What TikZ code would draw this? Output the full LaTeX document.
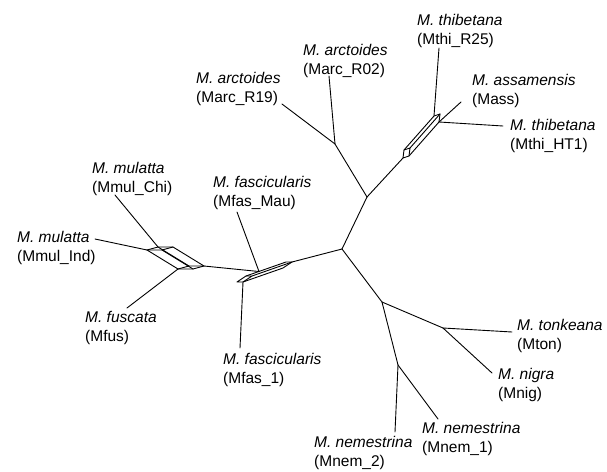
\documentclass[tikz,border=0pt]{standalone}
\usepackage{fontspec}
\setmainfont{Liberation Sans}
\begin{document}
\begin{tikzpicture}[x=1pt,y=-1pt,
  lab/.style={anchor=base west, inner sep=0pt, font=\fontsize{15.5}{19}\selectfont},
  sp/.style={anchor=base west, inner sep=0pt, font=\fontsize{15.5}{19}\selectfont\itshape},
  edge/.style={draw=black, line width=0.9pt, line join=round, line cap=round}]
\useasboundingbox (0,0) rectangle (607,471);
% tree junctions
\coordinate (A) at (342,249);
\coordinate (B) at (367,197);
\coordinate (C) at (335,144);
\coordinate (D) at (382,302);
\coordinate (E) at (443,328);
\coordinate (F) at (398,365);
% leaf ends
\coordinate (lR02) at (329,76);
\coordinate (lR19) at (282,104);
\coordinate (lR25) at (439,48);
\coordinate (lMass) at (461,102);
\coordinate (lHT1) at (503,126);
\coordinate (lMton) at (512,332);
\coordinate (lMnig) at (492,373);
\coordinate (lMnem1) at (438,419);
\coordinate (lMnem2) at (395,432);
\coordinate (lMfas1) at (240,348);
\coordinate (lMau) at (237,212);
\coordinate (lChi) at (115,195);
\coordinate (lInd) at (95,239);
\coordinate (lMfus) at (127,308);
% upper box (thibetana / assamensis)
\coordinate (u0) at (403,158);
\coordinate (u1) at (404,150);
\coordinate (u2) at (434,116);
\coordinate (u3) at (440,114);
\coordinate (u4) at (439,122);
\coordinate (u5) at (409,156);
\coordinate (u6) at (410,148);
% mulatta box
\coordinate (mL) at (147,250);
\coordinate (mT1) at (158,247);
\coordinate (mT2) at (173,247);
\coordinate (mR) at (204,266);
\coordinate (mB2) at (193,269);
\coordinate (mB1) at (178,269);
\coordinate (mI1) at (189,266);
\coordinate (mI2) at (162,250);
% fascicularis box
\coordinate (fL) at (237,282);
\coordinate (fA) at (246,276);
\coordinate (fAB) at (286,262);
\coordinate (fR) at (292,262);
\coordinate (fBC) at (283,268);
\coordinate (fC) at (243,282);
\coordinate (fI) at (252,276);
\coordinate (fM) at (259,271.5);

% tree edges
\draw[edge] (A) -- (B);
\draw[edge] (B) -- (C);
\draw[edge] (C) -- (lR02);
\draw[edge] (C) -- (lR19);
\draw[edge] (B) -- (u0);
\draw[edge] (A) -- (D);
\draw[edge] (D) -- (E);
\draw[edge] (E) -- (lMton);
\draw[edge] (E) -- (lMnig);
\draw[edge] (D) -- (F);
\draw[edge] (F) -- (lMnem1);
\draw[edge] (F) -- (lMnem2);
\draw[edge] (A) -- (fR);
\draw[edge] (fM) -- (mR);
\draw[edge] (fM) -- (lMau);
\draw[edge] (fC) -- (lMfas1);
\draw[edge] (mT1) -- (lChi);
\draw[edge] (mL) -- (lInd);
\draw[edge] (mB1) -- (lMfus);
\draw[edge] (u2) -- (lR25);
\draw[edge] (u4) -- (lMass);
\draw[edge] (u4) -- (lHT1);

% upper box
\draw[edge] (u0) -- (u1) -- (u2) -- (u3) -- (u4) -- (u5) -- cycle;
\draw[edge] (u1) -- (u6) -- (u5);
\draw[edge] (u6) -- (u3);
% mulatta box
\draw[edge] (mL) -- (mT1) -- (mT2) -- (mR) -- (mB2) -- (mB1) -- cycle;
\draw[edge] (mT1) -- (mI1) -- (mR);
\draw[edge] (mI1) -- (mB1);
\draw[edge] (mL) -- (mI2) -- (mT2);
\draw[edge] (mI2) -- (mB2);
% fascicularis box
\draw[edge] (fL) -- (fA) -- (fAB) -- (fR) -- (fBC) -- (fC) -- cycle;
\draw[edge] (fA) -- (fI) -- (fC);
\draw[edge] (fI) -- (fR);

% labels
\node[sp]  (tR25a) at (417,25) {M. thibetana};
\node[lab] (tR25b) at (417,44) {(Mthi\_R25)};
\node[sp]  (tMassa) at (472,85) {M. assamensis};
\node[lab] (tMassb) at (472,104) {(Mass)};
\node[sp]  (tHT1a) at (510,130) {M. thibetana};
\node[lab] (tHT1b) at (510,149) {(Mthi\_HT1)};
\node[sp]  (tR02a) at (303,55) {M. arctoides};
\node[lab] (tR02b) at (303,74) {(Marc\_R02)};
\node[sp]  (tR19a) at (196,83) {M. arctoides};
\node[lab] (tR19b) at (196,102) {(Marc\_R19)};
\node[sp]  (tChia) at (92,173) {M. mulatta};
\node[lab] (tChib) at (92,192) {(Mmul\_Chi)};
\node[sp]  (tInda) at (17,242) {M. mulatta};
\node[lab] (tIndb) at (17,261) {(Mmul\_Ind)};
\node[sp]  (tMfusa) at (85,322) {M. fuscata};
\node[lab] (tMfusb) at (85,341) {(Mfus)};
\node[sp]  (tMaua) at (213,187) {M. fascicularis};
\node[lab] (tMaub) at (213,206) {(Mfas\_Mau)};
\node[sp]  (tMfas1a) at (223,364) {M. fascicularis};
\node[lab] (tMfas1b) at (223,383) {(Mfas\_1)};
\node[sp]  (tMtona) at (517,330) {M. tonkeana};
\node[lab] (tMtonb) at (517,349) {(Mton)};
\node[sp]  (tMniga) at (498,379) {M. nigra};
\node[lab] (tMnigb) at (498,398) {(Mnig)};
\node[sp]  (tMnem1a) at (422,433) {M. nemestrina};
\node[lab] (tMnem1b) at (422,452) {(Mnem\_1)};
\node[sp]  (tMnem2a) at (314,447) {M. nemestrina};
\node[lab] (tMnem2b) at (314,466) {(Mnem\_2)};
\end{tikzpicture}
\end{document}
